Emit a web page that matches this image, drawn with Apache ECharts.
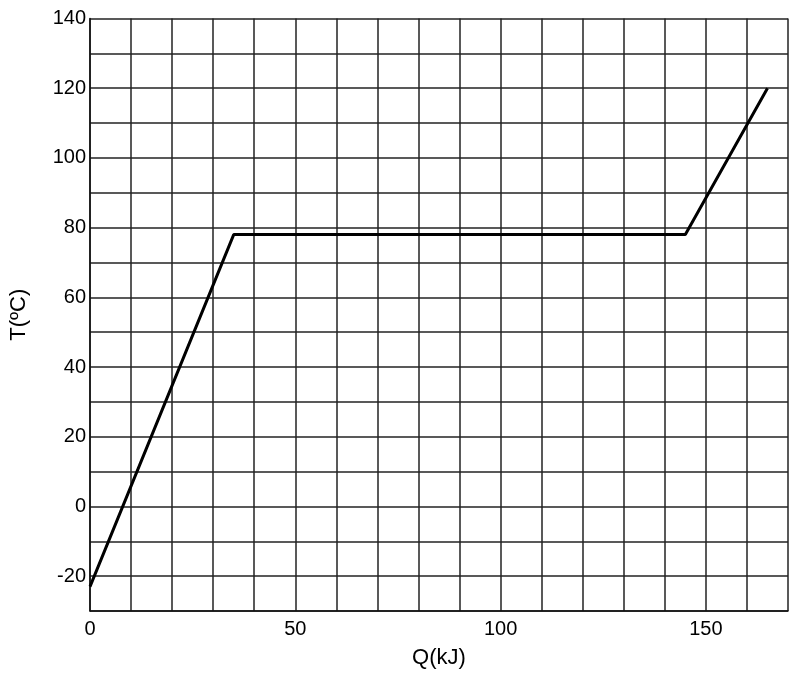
<!DOCTYPE html>
<html><head><meta charset="utf-8">
<script src="https://cdn.jsdelivr.net/npm/echarts@6/dist/echarts.min.js"></script>
<style>html,body{margin:0;padding:0;background:#fff}#c{width:799px;height:675px}</style>
</head><body><div id="c"></div>
<script>
const qValues = [0, 35, 145, 165];
const tValues = [-23, 78, 78, 120];
const xTicks = [0, 50, 100, 150];
const yTicks = [-20, 0, 20, 40, 60, 80, 100, 120, 140];
const chart = echarts.init(document.getElementById('c'));
const font = 'Liberation Sans, Arial, sans-serif';
chart.setOption({
  animation: false,
  grid: {left: 88, right: 11, top: 18.5, bottom: 64},
  xAxis: {
    type: 'value', min: 0, max: 170, interval: 10,
    name: 'Q(kJ)', nameLocation: 'middle', nameGap: 36,
    nameTextStyle: {fontSize: 22, color: '#000', fontFamily: font},
    axisLine: {show: true, onZero: false, lineStyle: {color: '#111', width: 1.5}},
    axisTick: {show: false},
    axisLabel: {fontSize: 20, color: '#000', fontFamily: font, margin: 8,
      formatter: v => xTicks.includes(v) ? String(v) : ''},
    splitLine: {show: true, lineStyle: {color: '#222', width: 1.5}}
  },
  yAxis: {
    type: 'value', min: -30, max: 140, interval: 10,
    name: 'T(ºC)', nameLocation: 'middle', nameGap: 60,
    nameTextStyle: {fontSize: 22, color: '#000', fontFamily: font},
    axisLine: {show: true, lineStyle: {color: '#111', width: 1.5}},
    axisTick: {show: false},
    axisLabel: {fontSize: 20, color: '#000', fontFamily: font, margin: 4,
      formatter: v => yTicks.includes(v) ? String(v) : ''},
    splitLine: {show: true, lineStyle: {color: '#222', width: 1.5}}
  },
  series: [{
    type: 'line', data: qValues.map((q, i) => [q, tValues[i]]),
    symbol: 'none', lineStyle: {color: '#000', width: 3}
  }]
});
</script></body></html>
